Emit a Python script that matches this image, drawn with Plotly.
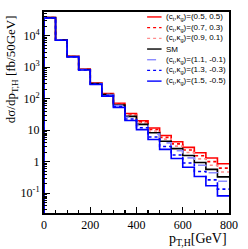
import plotly.graph_objects as go

# ---- data ----
bin_edges = [0, 50, 100, 150, 200, 250, 300, 350, 400, 450, 500, 550, 600, 650, 700, 750, 800]

labels = ["(c<sub>t</sub>,κ<sub>g</sub>)=(0.5, 0.5)",
          "(c<sub>t</sub>,κ<sub>g</sub>)=(0.7, 0.3)",
          "(c<sub>t</sub>,κ<sub>g</sub>)=(0.9, 0.1)",
          "SM",
          "(c<sub>t</sub>,κ<sub>g</sub>)=(1.1, -0.1)",
          "(c<sub>t</sub>,κ<sub>g</sub>)=(1.3, -0.3)",
          "(c<sub>t</sub>,κ<sub>g</sub>)=(1.5, -0.5)"]

ct05 = [38150, 7440, 2228, 876, 316, 145.3, 71.1, 33.9, 20.0, 11.7, 6.77, 4.31, 2.84, 1.926, 1.306, 0.86]
ct07 = [37970, 7410, 2215, 868, 311, 141.9, 68.4, 31.7, 18.4, 10.5, 5.93, 3.67, 2.35, 1.536, 1.003, 0.625]
ct09 = [37790, 7370, 2202, 860, 307, 138.7, 65.9, 29.7, 16.9, 9.43, 5.20, 3.13, 1.95, 1.225, 0.771, 0.47]
sm   = [37580, 7330, 2188, 851, 302, 134.9, 63.1, 27.5, 15.3, 8.32, 4.47, 2.60, 1.567, 0.944, 0.569, 0.33]
ct11 = [37420, 7300, 2176, 844, 298, 131.9, 60.9, 25.9, 14.2, 7.53, 3.96, 2.24, 1.317, 0.767, 0.446, 0.24]
ct13 = [37050, 7230, 2152, 828, 290, 125.9, 56.5, 22.7, 11.96, 6.06, 3.04, 1.63, 0.904, 0.488, 0.2635, 0.134]
ct15 = [36780, 7170, 2132, 816, 283, 121.1, 53.2, 20.4, 10.4, 5.09, 2.46, 1.256, 0.667, 0.338, 0.172, 0.082]

series = [ct05, ct07, ct09, sm, ct11, ct13, ct15]
colors = ["#ff0000", "#ff0000", "#ff8c8c", "#000000", "#8c8cff", "#0000ff", "#0000ff"]
dashes = ["solid", "dot", "dot", "solid", "dash", "dot", "solid"]

ytick_vals = [0.1, 1, 10, 100, 1000, 10000]
ytick_text = ["10<sup>-1</sup>", "1", "10", "10<sup>2</sup>", "10<sup>3</sup>", "10<sup>4</sup>"]
y_floor = 1e-3

fig = go.Figure()

for vals, col, dsh in zip(series, colors, dashes):
    xs = [bin_edges[0]] + bin_edges[:-1] + [bin_edges[-1]]
    ys = [y_floor] + vals + [vals[-1]]
    fig.add_trace(go.Scatter(x=xs, y=ys, mode="lines", line_shape="hv",
                             line=dict(color=col, width=1.6, dash=dsh),
                             showlegend=False, hoverinfo="skip"))

# ---- manual legend ----
L, R, T, B = 44, 12, 10, 36
W, H = 248, 249
pw, ph = W - L - R, H - T - B

def px(xpix):
    return (xpix - L) / pw

def py(ypix):
    return (H - B - ypix) / ph

for i, (lab, col, dsh) in enumerate(zip(labels, colors, dashes)):
    yy = py(15 + 10.8 * i)
    fig.add_shape(type="line", xref="paper", yref="paper",
                  x0=px(151), x1=px(166), y0=yy, y1=yy,
                  line=dict(color=col, width=1.4, dash=dsh))
    fig.add_annotation(xref="paper", yref="paper", x=px(169), y=yy,
                       xanchor="left", yanchor="middle", showarrow=False,
                       text=lab, font=dict(family="Liberation Sans", size=8, color="#000"))

# axis titles
fig.add_annotation(xref="paper", yref="paper", x=px(11), y=py(11),
                   xanchor="center", yanchor="top", textangle=-90, showarrow=False,
                   text="dσ/dp<sub>T,H</sub> [fb/50GeV]",
                   font=dict(family="Liberation Serif", size=13, color="#000"))
fig.add_annotation(xref="paper", yref="paper", x=1.0, y=py(240),
                   xanchor="right", yanchor="middle", showarrow=False,
                   text="p<sub>T,H</sub>[GeV]",
                   font=dict(family="Liberation Serif", size=14, color="#000"))

minor_y = [m * 10 ** k for k in range(-2, 5) for m in range(2, 10)]

fig.update_xaxes(range=[0, 800], tickvals=[0, 200, 400, 600, 800],
                 ticks="inside", ticklen=6, tickwidth=1.3, tickcolor="#000",
                 minor=dict(tickvals=list(range(0, 801, 50)), ticks="inside", ticklen=3,
                            tickwidth=1.2, tickcolor="#000", showgrid=False),
                 showline=True, linewidth=2, linecolor="#000", mirror=True,
                 showgrid=False, zeroline=False,
                 tickfont=dict(family="Liberation Serif", size=12, color="#000"))
fig.update_yaxes(type="log", range=[-1.63, 4.755], tickvals=ytick_vals, ticktext=ytick_text,
                 ticks="inside", ticklen=6, tickwidth=1.3, tickcolor="#000",
                 minor=dict(tickvals=minor_y, ticks="inside", ticklen=3,
                            tickwidth=1.2, tickcolor="#000", showgrid=False),
                 showline=True, linewidth=2, linecolor="#000", mirror=True,
                 showgrid=False, zeroline=False,
                 tickfont=dict(family="Liberation Serif", size=12, color="#000"))

fig.update_layout(width=W, height=H, margin=dict(l=L, r=R, t=T, b=B),
                  plot_bgcolor="white", paper_bgcolor="white")

fig.write_html("out.html", config={"displayModeBar": False, "staticPlot": True},
               post_script="document.body.style.margin='0';document.body.style.overflow='hidden';")
